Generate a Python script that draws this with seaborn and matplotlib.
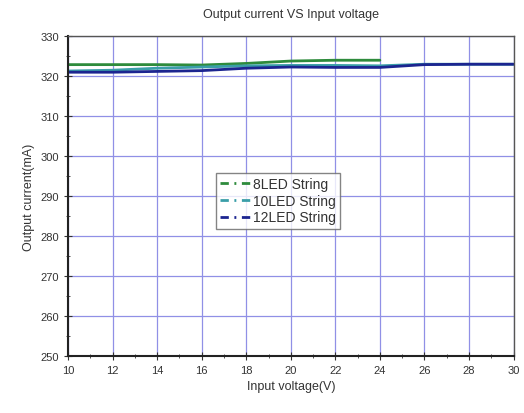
import matplotlib
matplotlib.use("Agg")
import pandas as pd
import seaborn as sns
import matplotlib.pyplot as plt
from matplotlib.lines import Line2D
from matplotlib.ticker import MultipleLocator

# data
volt_8 = [10, 12, 14, 16, 18, 20, 22, 24]
cur_8 = [322.9, 322.9, 322.9, 322.8, 323.2, 323.8, 324.0, 324.0]
volt_10 = [10, 12, 14, 16, 18, 20, 22, 24, 26, 28, 30]
cur_10 = [321.3, 321.5, 322.0, 322.3, 322.6, 322.7, 322.7, 322.6, 323.0, 323.0, 323.0]
volt_12 = [10, 12, 14, 16, 18, 20, 22, 24, 26, 28, 30]
cur_12 = [321.0, 321.0, 321.2, 321.4, 322.0, 322.3, 322.2, 322.2, 322.9, 323.0, 323.0]
labels = ["8LED String", "10LED String", "12LED String"]
colors = ["#2e8b3c", "#3a9ea8", "#1c2590"]

df = pd.concat([
    pd.DataFrame({"V": volt_8, "I": cur_8, "series": labels[0]}),
    pd.DataFrame({"V": volt_10, "I": cur_10, "series": labels[1]}),
    pd.DataFrame({"V": volt_12, "I": cur_12, "series": labels[2]}),
], ignore_index=True)

sns.set_style("white")
plt.rcParams["font.family"] = ["Liberation Sans", "DejaVu Sans"]

fig, ax = plt.subplots(figsize=(5.24, 4.14), dpi=100)
fig.subplots_adjust(left=0.13, right=0.98, top=0.91, bottom=0.138)

sns.lineplot(data=df, x="V", y="I", hue="series", palette=colors,
             linewidth=2, legend=False, ax=ax)

ax.set_xlim(10, 30)
ax.set_ylim(250, 330)
ax.xaxis.set_major_locator(MultipleLocator(2))
ax.xaxis.set_minor_locator(MultipleLocator(1))
ax.yaxis.set_major_locator(MultipleLocator(10))
ax.yaxis.set_minor_locator(MultipleLocator(5))
ax.grid(True, which="major", color="#9090e6", linewidth=0.9)
ax.set_axisbelow(True)
ax.tick_params(which="both", direction="inout", bottom=True, left=True,
               labelsize=8, colors="#333333")
ax.tick_params(which="major", length=6)
ax.tick_params(which="minor", length=3)
for s in ax.spines.values():
    s.set_color("#555555")
    s.set_linewidth(1)
ax.spines["left"].set_color("#222222")
ax.spines["bottom"].set_color("#222222")
ax.spines["left"].set_linewidth(1.5)
ax.spines["bottom"].set_linewidth(1.5)

ax.set_xlabel("Input voltage(V)", fontsize=9, color="#333333")
ax.set_ylabel("Output current(mA)", fontsize=9, color="#333333")
ax.set_title("Output current VS Input voltage", fontsize=9, color="#333333", pad=14)

handles = [Line2D([0], [0], color=c, linewidth=2, dashes=(3, 2, 0.7, 2)) for c in colors]
leg = ax.legend(handles, labels, loc="upper left", bbox_to_anchor=(0.316, 0.595),
                fontsize=10, frameon=True, fancybox=False, handlelength=2.3,
                handletextpad=0.1, borderpad=0.3, labelspacing=0.2)
leg.get_frame().set_edgecolor("#666666")
for t in leg.get_texts():
    t.set_color("#333333")

fig.savefig("out.png", dpi=100)
